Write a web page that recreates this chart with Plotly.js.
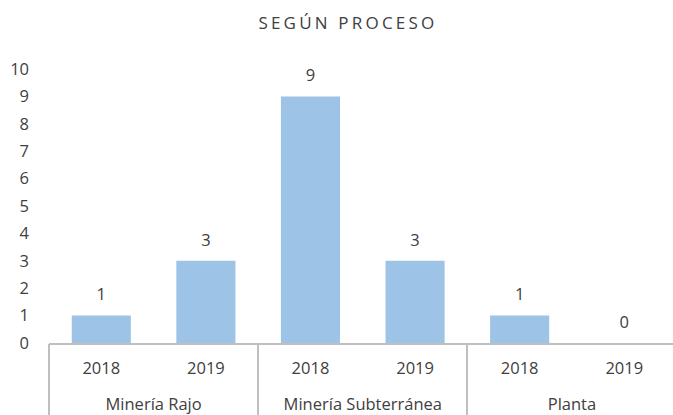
<!DOCTYPE html>
<html><head><meta charset="utf-8">
<script src="https://cdn.plot.ly/plotly-3.0.1.min.js"></script>
<style>html,body{margin:0;padding:0;background:#fff} .gtitle{letter-spacing:3.2px}</style>
</head><body>
<div id="chart" style="width:673px;height:415px"></div>
<script>
const groups = ["Minería Rajo","Minería Rajo","Minería Subterránea","Minería Subterránea","Planta","Planta"];
const years = ["2018","2019","2018","2019","2018","2019"];
const values = [1,3,9,3,1,0];
const yTicks = [0,1,2,3,4,5,6,7,8,9,10];

// derived positions (category indices) for the two label levels and the group dividers
const idx = years.map((_, i) => i);
const groupNames = [...new Set(groups)];
const groupCenters = groupNames.map(g => {
  const ii = idx.filter(i => groups[i] === g);
  return (ii[0] + ii[ii.length - 1]) / 2;
});
const groupEdges = groupNames.map(g => idx.find(i => groups[i] === g) - 0.5);

const fontFam = "Open Sans, Noto Sans, sans-serif";
const txtColor = "#404040";
const xRange = [-0.5, 5.466];
const tf = {family: fontFam, size: 16.5, color: txtColor};

const bars = {
  type: "bar",
  x: [groups, years],
  y: values,
  marker: {color: "#9DC3E6"},
  width: 0.565,
  hoverinfo: "none"
};
const labels = {
  type: "scatter",
  mode: "markers+text",
  x: idx,
  y: values,
  xaxis: "x2",
  text: values.map(String),
  textposition: "top center",
  marker: {size: 16, color: "rgba(0,0,0,0)"},
  cliponaxis: false,
  textfont: tf,
  hoverinfo: "none"
};
const ghost3 = {type: "scatter", mode: "markers", x: groupCenters, y: groupCenters.map(() => 0), xaxis: "x3",
  marker: {size: 1, color: "rgba(0,0,0,0)"}, hoverinfo: "none"};
const ghost4 = {type: "scatter", mode: "markers", x: groupEdges, y: groupEdges.map(() => 0), xaxis: "x4",
  marker: {size: 1, color: "rgba(0,0,0,0)"}, hoverinfo: "none"};

const layout = {
  width: 673, height: 415,
  margin: {l: 49, r: 0, t: 69, b: 72},
  paper_bgcolor: "#fff", plot_bgcolor: "#fff",
  showlegend: false,
  title: {text: "SEGÚN PROCESO", x: 0.517, xanchor: "center", y: 0.945, yanchor: "middle",
          font: {family: fontFam, size: 17, color: txtColor}},
  xaxis: {type: "multicategory", range: xRange, showline: true, linecolor: "#BFBFBF", linewidth: 2,
          showdividers: false, showticklabels: false, ticks: "", showgrid: false},
  xaxis2: {overlaying: "x", anchor: "y", side: "bottom", type: "linear", range: xRange,
           tickmode: "array", tickvals: idx, ticktext: years, ticks: "", ticklabelstandoff: 13,
           showline: false, showgrid: false, zeroline: false, tickfont: tf},
  xaxis3: {overlaying: "x", anchor: "y", side: "bottom", type: "linear", range: xRange,
           tickmode: "array", tickvals: groupCenters, ticktext: groupNames, ticks: "", ticklabelstandoff: 49,
           showline: false, showgrid: false, zeroline: false, tickfont: tf},
  xaxis4: {overlaying: "x", anchor: "y", side: "bottom", type: "linear", range: xRange,
           tickmode: "array", tickvals: groupEdges, showticklabels: false,
           ticks: "outside", ticklen: 72, tickwidth: 2, tickcolor: "#BFBFBF",
           showline: false, showgrid: false, zeroline: false},
  yaxis: {range: [0, 10], tickvals: yTicks, ticktext: yTicks.map(String), showgrid: false, zeroline: false,
          showline: false, ticks: "", ticklabelstandoff: 19, tickfont: tf}
};
Plotly.newPlot("chart", [bars, labels, ghost3, ghost4], layout, {displayModeBar: false, staticPlot: true});
</script>
</body></html>
